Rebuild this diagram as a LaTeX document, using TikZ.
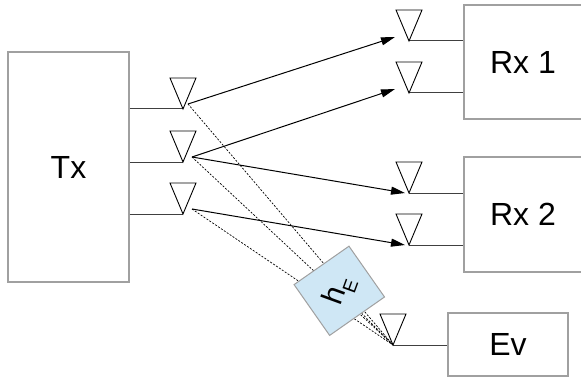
\documentclass[tikz,border=0pt]{standalone}
\usepackage{fontspec}
\setmainfont{Liberation Sans}
\usetikzlibrary{arrows.meta,calc}
\definecolor{boxgray}{RGB}{160,160,160}
\definecolor{hblue}{RGB}{207,231,245}
\begin{document}
\begin{tikzpicture}[x=1pt,y=1pt,
  blk/.style={draw=boxgray,line width=1.3pt,fill=white,inner sep=0pt,font=\fontsize{32}{38}\selectfont},
  ant/.style={draw=black,line width=0.9pt,line join=miter},
  feed/.style={draw=black!75,line width=1pt},
  sig/.style={draw=black,line width=1pt,-{Triangle[length=14pt,width=8pt]}},
  leak/.style={draw=black,line width=0.7pt,dash pattern=on 2pt off 1.5pt},
  chan/.style={draw=boxgray,line width=1pt,fill=hblue,minimum width=67pt,minimum height=62pt,inner sep=0pt,font=\fontsize{30}{34}\selectfont}]
\useasboundingbox (0,0) rectangle (581,381);
% antenna tips
\coordinate (T1) at (183,272);
\coordinate (T2) at (183,219);
\coordinate (T3) at (183,167);
\coordinate (R1) at (409,340);
\coordinate (R2) at (409,288);
\coordinate (R3) at (409,188);
\coordinate (R4) at (409,136);
\coordinate (E1) at (393,36);
% connector ends
\coordinate (a1) at (188,277);
\coordinate (a2) at (192,224);
\coordinate (a3) at (192,172);
\coordinate (b1) at (395,344);
\coordinate (b2) at (395,292);
\coordinate (b3) at (405,188);
\coordinate (b4) at (405,136);
% blocks
\node[blk,minimum width=121pt,minimum height=230pt] (tx) at (68.5,214) {Tx};
\node[blk,minimum width=118pt,minimum height=114pt] (rx1) at (523,319) {Rx 1};
\node[blk,minimum width=118pt,minimum height=115pt] (rx2) at (523,166.5) {Rx 2};
\node[blk,minimum width=120pt,minimum height=63pt] (ev) at (508,36.5) {Ev};
% leakage paths
\draw[leak] (a1) -- (E1);
\draw[leak] (a2) -- (E1);
\draw[leak] (a3) -- (E1);
\coordinate (hc) at (339.3,90.2);
\draw[leak] (hc) -- (E1);
\node[chan,rotate=35] (hE) at (hc) {\rotatebox{35}{h\raisebox{-9pt}{\fontsize{19}{22}\selectfont E}}};
% feeds
\foreach \t in {T1,T2,T3} \draw[feed] (\t -| tx.east) -- (\t);
\foreach \t in {R1,R2} \draw[feed] (\t) -- (\t -| rx1.west);
\foreach \t in {R3,R4} \draw[feed] (\t) -- (\t -| rx2.west);
\draw[feed] (E1) -- (E1 -| ev.west);
% antennas
\foreach \t in {T1,T2,T3,R1,R2,R3,R4,E1} \draw[ant] (\t) -- ++(-13,31) -- ++(26,0) -- cycle;
% signals
\draw[sig] (a1) -- (b1);
\draw[sig] (a2) -- (b2);
\draw[sig] (a2) -- (b3);
\draw[sig] (a3) -- (b4);
\end{tikzpicture}
\end{document}
